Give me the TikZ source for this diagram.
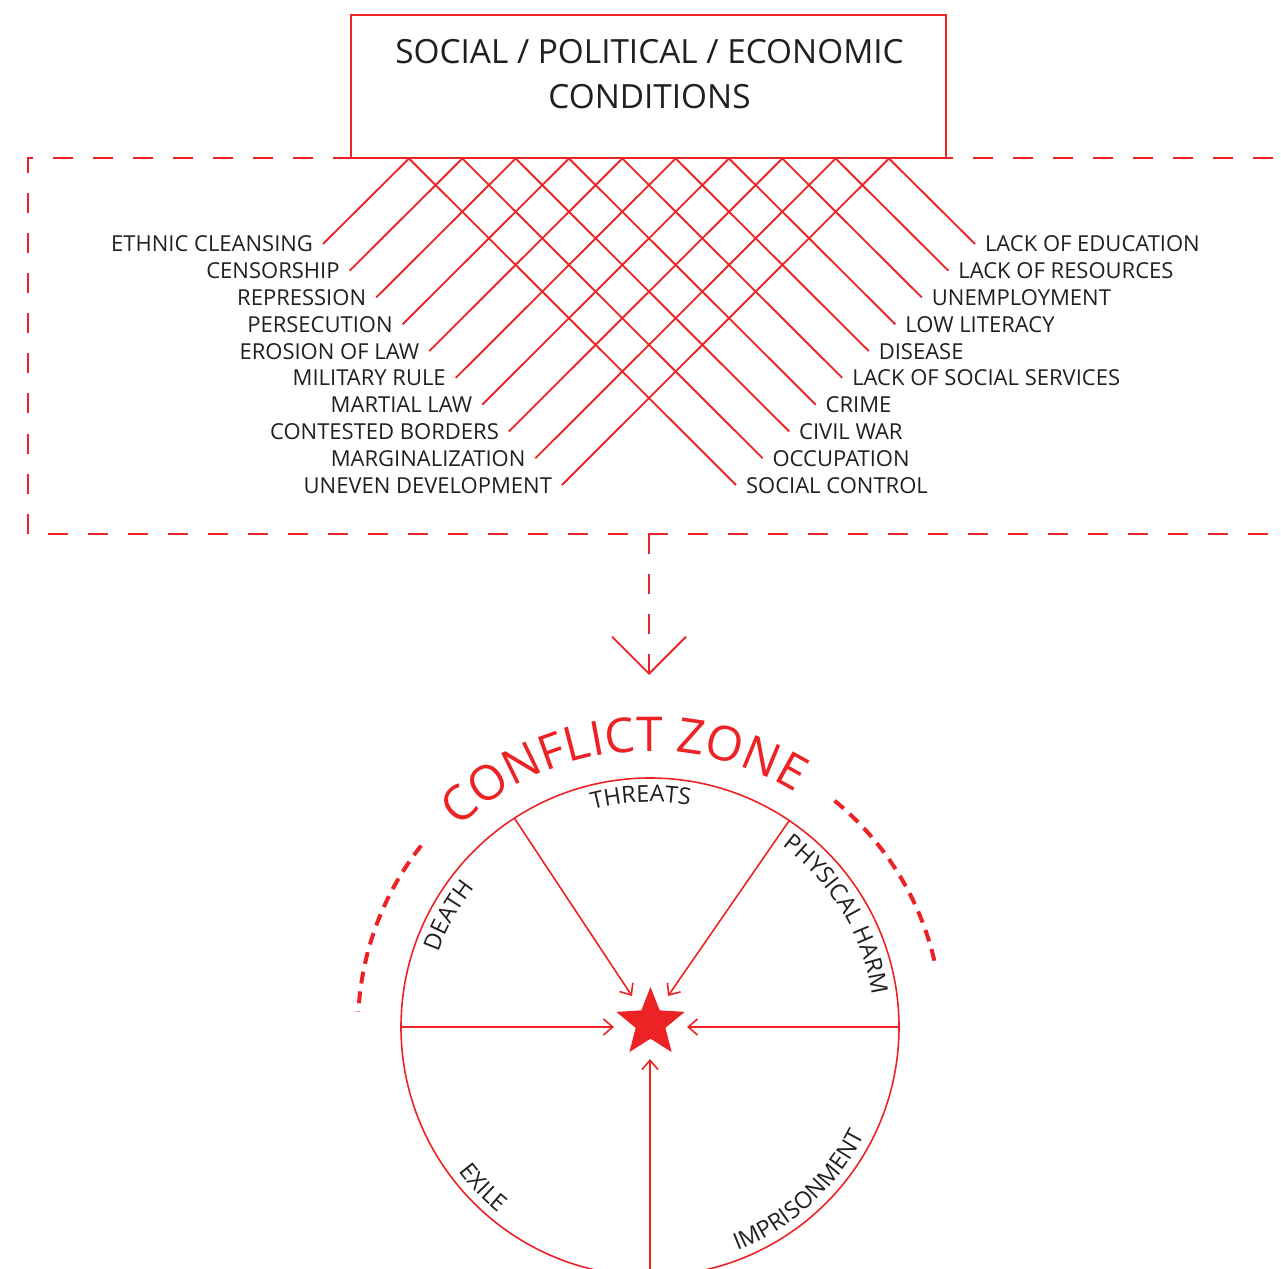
\documentclass[tikz,border=0pt]{standalone}
\usepackage{fontspec}
\setmainfont{Open Sans}
\usetikzlibrary{arrows.meta,shapes.geometric,decorations.text,calc}
\definecolor{zred}{RGB}{237,34,36}
\definecolor{zink}{RGB}{35,31,32}
\newcommand\lblfont{\fontsize{16.5pt}{18pt}\selectfont}
\newcommand\cirfont{\fontsize{17.5pt}{19pt}\selectfont}
\newcommand\ttlfont{\fontsize{25pt}{34pt}\selectfont}
\newcommand\czfont{\fontsize{36pt}{40pt}\selectfont}
\tikzset{
  lbl/.style={font=\lblfont, text=zink, inner sep=0pt, outer sep=0pt},
  ttl/.style={font=\ttlfont, text=zink, inner sep=0pt},
  xline/.style={draw=zred, line width=1.4pt},
  frame/.style={draw=zred, line width=1.5pt, dash pattern=on 15pt off 15pt, dash phase=9.75pt},
  dline/.style={draw=zred, line width=1.4pt, dash pattern=on 15pt off 15pt},
  spoke/.style={draw=zred, line width=1.2pt, -{Straight Barb[length=7pt,width=12pt,line width=1.2pt]}},
  dasharc/.style={draw=zred, line width=3pt, dash pattern=on 9pt off 6pt},
}
\begin{document}
\begin{tikzpicture}[x=0.75pt,y=0.75pt]
\useasboundingbox (0,0) rectangle (1281,-1269);
\clip (0,0) rectangle (1281,-1269);
% dashed frame
\draw[frame] (1300,-158.5) -- (28,-158.5) -- (28,-534) -- (1300,-534);
% top box
\node[draw=zred, line width=1.5pt, fill=white, minimum width=446.25pt, minimum height=107.25pt, inner sep=0pt, outer sep=0pt] (cond) at (648.5,-86.5) {};
\node[ttl, anchor=base] (t1) at (649.5,-64) {SOCIAL / POLITICAL / ECONOMIC};
\node[ttl, anchor=base] (t2) at (649.5,-109) {CONDITIONS};
% crossing lines
\foreach \t [count=\i from 0] in {ETHNIC CLEANSING,CENSORSHIP,REPRESSION,PERSECUTION,EROSION OF LAW,MILITARY RULE,MARTIAL LAW,CONTESTED BORDERS,MARGINALIZATION,UNEVEN DEVELOPMENT}{
  \coordinate (p\i) at ({409+53.33*\i},-158.5);
  \coordinate (le\i) at ({323+26.55*\i},{-244-26.78*\i});
  \node[lbl, anchor=base east] (L\i) at ($(le\i)+(-10,-8)$) {\t};
  \draw[xline] (p\i) -- (le\i);
}
\foreach \t [count=\j from 0] in {LACK OF EDUCATION,LACK OF RESOURCES,UNEMPLOYMENT,LOW LITERACY,DISEASE,LACK OF SOCIAL SERVICES,CRIME,CIVIL WAR,OCCUPATION,SOCIAL CONTROL}{
  \pgfmathtruncatemacro\k{9-\j}
  \coordinate (re\j) at ({975-26.55*\j},{-244-26.78*\j});
  \node[lbl, anchor=base west] (R\j) at ($(re\j)+(10,-8)$) {\t};
  \draw[xline] (p\k) -- (re\j);
}
% arrow to the zone
\coordinate (fb) at (649,-534);
\coordinate (zt) at (649,-675);
\draw[dline, -{Straight Barb[length=27.75pt,width=55.5pt,line width=1.4pt]}] (fb) -- (zt);
% zone circle
\coordinate (ctr) at (650,-1027);
\node[draw=zred, line width=1.2pt, circle, minimum size=373.5pt, inner sep=0pt, outer sep=0pt] (zone) at (ctr) {};
\node[star, star points=5, star point ratio=2.3, fill=zred, minimum size=54pt, inner sep=0pt] (star) at (650.5,-1023) {};
\coordinate (tTL) at (632,-996);
\coordinate (tTR) at (668,-996);
\coordinate (tL) at (614,-1027);
\coordinate (tR) at (687,-1027);
\coordinate (tB) at (650,-1059);
\draw[spoke] (zone.123.2) -- (tTL);
\draw[spoke] (zone.56.8) -- (tTR);
\draw[spoke] (zone.180) -- (tL);
\draw[spoke] (zone.0) -- (tR);
\draw[spoke] (zone.270) -- (tB);
% dashed arcs
\draw[dasharc] ($(ctr)+(141.6:292)$) arc[start angle=141.6, end angle=177, radius=292];
\draw[dasharc] ($(ctr)+(50.8:292)$) arc[start angle=50.8, end angle=11.7, radius=292];
% title along arc
\path[decorate, decoration={text along path, text={|\czfont\color{zred}|CONFLICT ZONE}, text align=center}]
  ($(ctr)+(152:276)$) arc[start angle=152, end angle=40, radius=276];
% labels inside circle
\path[decorate, decoration={text along path, text={|\cirfont\color{zink}|THREATS}, text align=center}]
  ($(ctr)+(132.3:225)$) arc[start angle=132.3, end angle=52.3, radius=225];
\path[decorate, decoration={text along path, text={|\cirfont\color{zink}|DEATH}, text align=center}]
  ($(ctr)+(181:224)$) arc[start angle=181, end angle=121, radius=224];
\path[decorate, decoration={text along path, text={|\cirfont\color{zink}|PHYSICAL HARM}, text align=center}]
  ($(ctr)+(76:224)$) arc[start angle=76, end angle=-14, radius=224];
\path[decorate, decoration={text along path, text={|\cirfont\color{zink}|EXILE}, text align=center}]
  ($(ctr)+(194:240)$) arc[start angle=194, end angle=254, radius=240];
\path[decorate, decoration={text along path, text={|\cirfont\color{zink}|IMPRISONMENT}, text align=center}]
  ($(ctr)+(262.3:240)$) arc[start angle=262.3, end angle=362.3, radius=240];
\end{tikzpicture}
\end{document}
